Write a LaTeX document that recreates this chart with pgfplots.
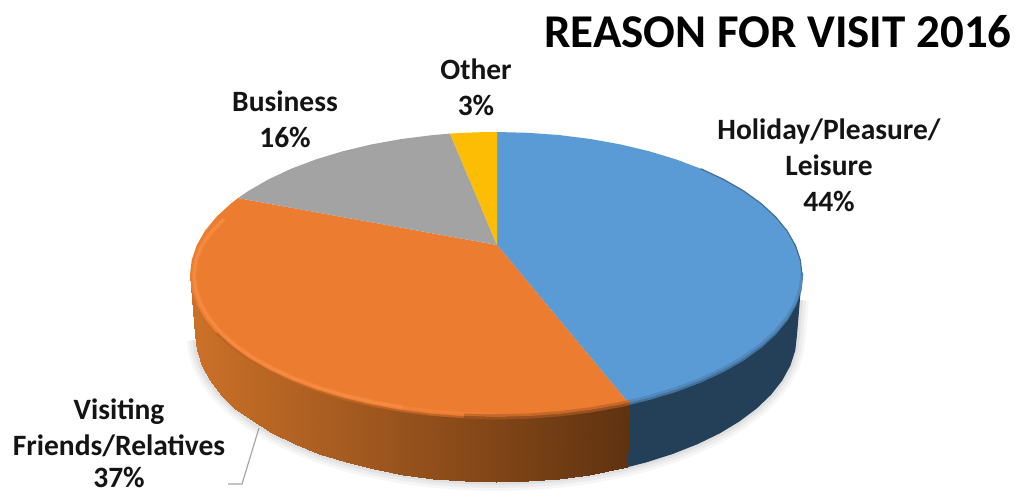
\documentclass[border=0pt]{standalone}
\usepackage{pgfplots}
\usepackage{pgfplotstable}
\usepackage{fontspec}
\pgfplotsset{compat=1.18}
\setmainfont{Carlito}

\definecolor{wedgeBlue}{HTML}{5B9BD5}
\definecolor{wedgeOrange}{HTML}{EB7C30}
\definecolor{wedgeGray}{HTML}{A3A3A3}
\definecolor{wedgeYellow}{HTML}{FDBD05}
\definecolor{sideBlue}{HTML}{243F58}
\definecolor{rimOrange}{HTML}{F68C42}
\definecolor{leader}{HTML}{A6A6A6}

% Top face of the pie, one outline per share (pixel coordinates, y downwards)
\pgfplotstableread{
x y
497 245
497 132
528 132.8
559.6 135.1
590.6 139
620.5 144.4
649 151.2
675.9 159.3
700.7 168.7
723.4 179.3
743.6 190.9
761 203.5
775.5 216.8
787 230.8
795.3 245.3
800.3 260.1
802 275
800.3 289.9
795.3 304.7
787 319.2
775.5 333.2
761 346.5
743.6 359.1
723.4 370.7
700.7 381.3
675.9 390.7
649 398.8
629.1 403.7
}\topHoliday

\pgfplotstableread{
x y
497 245
629.1 403.7
620.5 405.6
590.6 411
559.6 414.9
528 417.2
496 418
464 417.2
432.4 414.9
401.4 411
371.5 405.6
343 398.8
316.1 390.7
291.3 381.3
268.6 370.7
248.4 359.1
231 346.5
216.5 333.2
205 319.2
196.7 304.7
191.7 289.9
190 275
191.7 260.1
196.7 245.3
205 230.8
216.5 216.8
231 203.5
238 198.1
}\topFriends

\pgfplotstableread{
x y
497 245
238 198.1
248.4 190.9
268.6 179.3
291.3 168.7
316.1 159.3
343 151.2
371.5 144.4
401.4 139
432.4 135.1
450 133.6
}\topBusiness

\pgfplotstableread{
x y
497 245
450 133.6
464 132.8
480 132.2
497 132
}\topOther

% Outer wall under the Holiday share
\pgfplotstableread{
x y
802 275
800.3 289.9
795.3 304.7
787 319.2
775.5 333.2
761 346.5
743.6 359.1
723.4 370.7
700.7 381.3
675.9 390.7
649 398.8
629.1 403.7
627 467.3
646.5 462.3
672.9 453.9
697.4 444.2
719.7 433.4
739.5 421.4
756.7 408.5
771 394.8
782.3 380.4
790.4 365.6
795.3 350.4
797 335
}\wallHoliday

% Outer wall under the Friends share: top and bottom edge of each strip
\pgfplotstableread{
x y
629.1 403.7
627 467.3
620.5 405.6
618.4 469.3
590.6 411
589 474.8
559.6 414.9
558.6 478.8
528 417.2
527.5 481.2
496 418
496 482
464 417.2
464.5 481.2
432.4 414.9
433.4 478.8
401.4 411
403 474.8
371.5 405.6
373.6 469.3
343 398.8
345.5 462.3
316.1 390.7
319.1 453.9
291.3 381.3
294.6 444.2
268.6 370.7
272.3 433.4
248.4 359.1
252.5 421.4
231 346.5
235.3 408.5
216.5 333.2
221 394.8
205 319.2
209.7 380.4
196.7 304.7
201.6 365.6
191.7 289.9
196.7 350.4
190 275
195 335
}\wallFriends

% Lower silhouette of the disc, used for the soft ground shadow
\pgfplotstableread{
x y
800 300
797 335
795.3 350.4
790.4 365.6
782.3 380.4
771 394.8
756.7 408.5
739.5 421.4
719.7 433.4
697.4 444.2
672.9 453.9
646.5 462.3
618.4 469.3
589 474.8
558.6 478.8
527.5 481.2
496 482
464.5 481.2
433.4 478.8
403 474.8
373.6 469.3
345.5 462.3
319.1 453.9
294.6 444.2
272.3 433.4
252.5 421.4
235.3 408.5
221 394.8
209.7 380.4
201.6 365.6
196.7 350.4
195.5 340
}\silhouette

% Light bevel along the left and front of the Friends share
\pgfplotstableread{
x y
224 219
210.5 233
201.5 246.1
196 260.5
194 275
195.7 289.5
200.6 303.9
208.8 318
220.1 331.5
234.5 344.5
251.7 356.7
271.6 368
293.9 378.3
318.5 387.5
345 395.4
373.2 402
402.7 407.2
}\rimBright

\pgfplotstableread{
x y
402.7 407.2
433.2 411
464.4 413.2
496 414
}\rimFaint

% Shaded lip where the top face turns into the wall
\pgfplotstableread{
x y
216.5 333.2
231 346.5
248.4 359.1
268.6 370.7
291.3 381.3
316.1 390.7
343 398.8
371.5 405.6
401.4 411
432.4 414.9
464 417.2
}\lipLeft

\pgfplotstableread{
x y
464 417.2
496 418
528 417.2
559.6 414.9
590.6 411
620.5 405.6
629.1 403.7
}\lipRight

\pgfplotstableread{
x y
802 275
800.3 289.9
795.3 304.7
787 319.2
775.5 333.2
761 346.5
743.6 359.1
723.4 370.7
700.7 381.3
675.9 390.7
649 398.8
629.1 403.7
}\lipHoliday

\pgfplotstableread{
x y
700.7 168.7
723.4 179.3
743.6 190.9
761 203.5
775.5 216.8
787 230.8
795.3 245.3
800.3 260.1
802 275
}\edgeHoliday

\newcommand{\pielabel}[3]{\node[anchor=base,font=\fontsize{29.5}{29.5}\selectfont\bfseries,text=black!92,inner sep=0pt] at (axis cs:#1,#2) {#3};}

\begin{document}
\begin{tikzpicture}
\path[use as bounding box] (0,0) rectangle (1015pt,491pt);
\begin{axis}[
  at={(0,0)}, anchor=south west,
  scale only axis, width=1015pt, height=491pt,
  xmin=0, xmax=1015, ymin=0, ymax=491, y dir=reverse,
  hide axis, clip=false,
  colormap={wallOrange}{rgb255=(204,113,40) rgb255=(95,50,16)},
  point meta min=190, point meta max=630,
]
% ground shadow
\addplot[draw=black, opacity=0.035, line width=18pt, line join=round] table {\silhouette};
\addplot[draw=black, opacity=0.04, line width=12pt, line join=round] table {\silhouette};
\addplot[draw=black, opacity=0.05, line width=6pt, line join=round] table {\silhouette};

% outer walls
\addplot[fill=sideBlue, draw=none] table {\wallHoliday};
\addplot[surf, shader=interp, mesh/cols=2, point meta=x] table {\wallFriends};

% top faces
\addplot[fill=wedgeBlue, draw=none] table {\topHoliday};
\addplot[fill=wedgeOrange, draw=none] table {\topFriends};
\addplot[fill=wedgeGray, draw=none] table {\topBusiness};
\addplot[fill=wedgeYellow, draw=none] table {\topOther};

% bevel and lip shading
\addplot[draw=rimOrange!40!wedgeOrange, line width=5pt] table {\rimBright};
\addplot[draw=rimOrange!90!wedgeOrange, line width=2.5pt] table {\rimBright};
\addplot[draw=rimOrange!45!wedgeOrange, line width=2.5pt] table {\rimFaint};
\addplot[draw=wedgeOrange!80!black, line width=2pt] table {\lipLeft};
\addplot[draw=wedgeOrange!65!black, line width=3pt] table {\lipRight};
\addplot[draw=wedgeOrange!85!black, line width=2.5pt] table[y expr=\thisrow{y}-2.5] {\lipRight};
\addplot[draw=wedgeBlue!55!sideBlue, line width=2.5pt] table {\lipHoliday};
\addplot[draw=wedgeBlue!82!sideBlue, line width=2.5pt] table[y expr=\thisrow{y}-2.5] {\lipHoliday};
\addplot[draw=wedgeBlue!50!sideBlue, line width=1.2pt] table {\edgeHoliday};

% leader line of the Visiting Friends/Relatives label
\addplot[draw=leader, line width=1.2pt] coordinates {(259,428) (242,484) (228,484)};

% title and data labels
\node[anchor=base, font=\fontsize{47}{47}\selectfont\bfseries, text=black, inner sep=0pt] at (axis cs:778,47) {REASON FOR VISIT 2016};
\pielabel{829}{139}{Holiday/Pleasure/}
\pielabel{829}{175}{Leisure}
\pielabel{829}{211}{44\%}
\pielabel{476}{79}{Other}
\pielabel{476}{115}{3\%}
\pielabel{285}{111}{Business}
\pielabel{285}{147}{16\%}
\pielabel{119}{419}{Visiting}
\pielabel{119}{455}{Friends/Relatives}
\pielabel{119}{487}{37\%}
\end{axis}
\end{tikzpicture}
\end{document}
